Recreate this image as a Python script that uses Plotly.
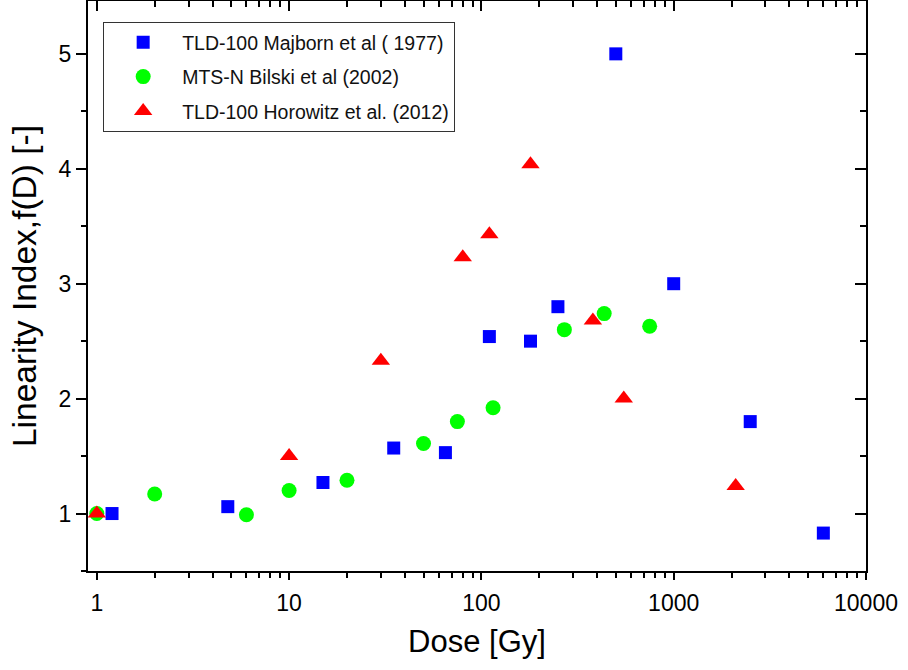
import math
import plotly.graph_objects as go

# Linearity index f(D) versus absorbed dose for three TL dosimeter data sets
majborn_dose = [1.2, 4.8, 15, 35, 65, 110, 180, 250, 500, 1000, 2500, 6000]
majborn_f = [1.0, 1.06, 1.27, 1.57, 1.53, 2.54, 2.5, 2.8, 5.0, 3.0, 1.8, 0.83]

bilski_dose = [1, 2, 6, 10, 20, 50, 75, 115, 270, 435, 750]
bilski_f = [1.0, 1.17, 0.99, 1.2, 1.29, 1.61, 1.8, 1.92, 2.6, 2.74, 2.63]

horowitz_dose = [1, 10, 30, 80, 110, 180, 380, 550, 2100]
horowitz_f = [1.0, 1.5, 2.33, 3.23, 3.43, 4.04, 2.68, 2.0, 1.24]

series_names = [
    "TLD-100 Majborn et al ( 1977)",
    "MTS-N Bilski et al (2002)",
    "TLD-100 Horowitz et al. (2012)",
]

FONT = "Liberation Sans, Arial, sans-serif"
X_RANGE = [math.log10(0.9), 4]
Y_RANGE = [0.5, 5.46]
MINOR_X = [m * 10 ** e for e in range(0, 4) for m in range(2, 10)]

fig = go.Figure()
fig.add_trace(go.Scatter(
    x=majborn_dose, y=majborn_f, mode="markers", name=series_names[0],
    legendgroup="a",
    marker=dict(symbol="square", size=13, color="#0000ff", line=dict(width=0)),
))
fig.add_trace(go.Scatter(
    x=bilski_dose, y=bilski_f, mode="markers", name=series_names[1],
    legendgroup="b",
    marker=dict(symbol="circle", size=15, color="#00ff00", line=dict(width=0)),
))
fig.add_trace(go.Scatter(
    x=horowitz_dose, y=horowitz_f, mode="markers", name=series_names[2],
    legendgroup="c",
    marker=dict(symbol="triangle-up", size=16, color="#ff0000", line=dict(width=0)),
))
# empty trace that carries the mirrored top/right frame axes
fig.add_trace(go.Scatter(x=[], y=[], xaxis="x2", yaxis="y2", showlegend=False,
                         hoverinfo="skip"))

fig.update_layout(
    width=908, height=670,
    margin=dict(l=88, r=42, t=1, b=99),
    paper_bgcolor="white", plot_bgcolor="white",
    font=dict(family=FONT, color="black"),
    showlegend=True,
    legend=dict(
        x=0.0195, y=0.963, xanchor="left", yanchor="top",
        bgcolor="white", bordercolor="#333333", borderwidth=1,
        font=dict(family=FONT, size=19.5, color="#111111"),
        itemwidth=68, tracegroupgap=6,
    ),
    xaxis=dict(
        type="log", range=X_RANGE, showgrid=False, zeroline=False,
        showline=True, linecolor="black", linewidth=2,
        ticks="outside", ticklen=7, tickwidth=2, tickcolor="black",
        tickvals=[1, 10, 100, 1000, 10000],
        ticktext=["1", "10", "100", "1000", "10000"],
        tickfont=dict(size=23, family=FONT), ticklabelstandoff=3,
        minor=dict(ticks="outside", ticklen=5, tickwidth=2, tickcolor="black",
                   tickvals=MINOR_X, showgrid=False),
        title=dict(text="Dose [Gy]", font=dict(size=31, family=FONT), standoff=16),
    ),
    yaxis=dict(
        range=Y_RANGE, showgrid=False, zeroline=False,
        showline=True, linecolor="black", linewidth=2,
        ticks="outside", ticklen=10, tickwidth=2, tickcolor="black",
        tick0=0, dtick=1,
        tickfont=dict(size=23, family=FONT),
        minor=dict(ticks="outside", ticklen=5, tickwidth=2, tickcolor="black",
                   dtick=0.5, tick0=0, showgrid=False),
        title=dict(text="Linearity Index,f(D) [-]", font=dict(size=33.5, family=FONT),
                   standoff=12),
    ),
    xaxis2=dict(
        type="log", range=X_RANGE, overlaying="x", side="top",
        showgrid=False, zeroline=False, showline=True, linecolor="black", linewidth=2,
        ticks="inside", ticklen=10, tickwidth=2, tickcolor="black",
        tickvals=[1, 10, 100, 1000, 10000], showticklabels=False,
        minor=dict(ticks="inside", ticklen=6, tickwidth=2, tickcolor="black",
                   tickvals=MINOR_X, showgrid=False),
    ),
    yaxis2=dict(
        range=Y_RANGE, overlaying="y", side="right",
        showgrid=False, zeroline=False, showline=True, linecolor="black", linewidth=2,
        ticks="inside", ticklen=11, tickwidth=2, tickcolor="black",
        tick0=0, dtick=1, showticklabels=False,
        minor=dict(ticks="inside", ticklen=6, tickwidth=2, tickcolor="black",
                   dtick=0.5, tick0=0, showgrid=False),
    ),
)

fig.write_html("out.html")
